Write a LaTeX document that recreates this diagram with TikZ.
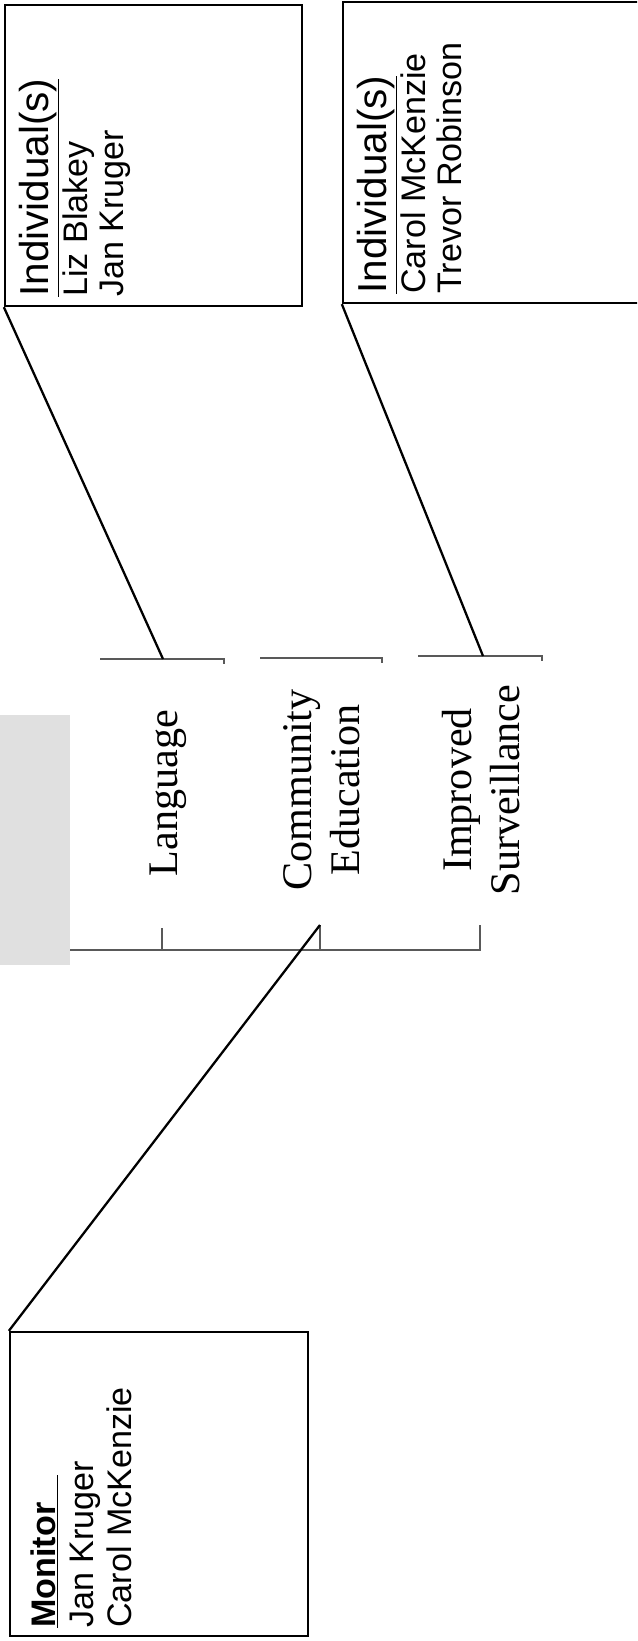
\documentclass[tikz,border=0pt]{standalone}
\usepackage{fontspec}
\setmainfont{Liberation Serif}
\setsansfont{Liberation Sans}
\usepackage{tikz}
\usetikzlibrary{fit}

\tikzset{
  box/.style={draw, line width=1.3pt, inner sep=0pt},
  link/.style={line width=1.3pt},
  bracket/.style={line width=0.8pt, black!65},
  boxhead/.style={rotate=90, anchor=base west, inner sep=0pt,
    font=\sffamily\fontsize{23}{26}\selectfont},
  person/.style={rotate=90, anchor=base west, inner sep=0pt,
    font=\sffamily\fontsize{19.4}{22}\selectfont},
  topic/.style={rotate=90, anchor=north, inner sep=0pt, align=center,
    font=\fontsize{24}{27.3}\selectfont}
}

\begin{document}
\begin{tikzpicture}[x=0.2mm, y=-0.2mm]
\useasboundingbox (0,0) rectangle (637,1641);
\clip (0,0) rectangle (637,1641);

% ---- shaded strip at left ----
\fill[black!12] (0,715) rectangle (70,965);

% ---- first individual box ----
\node[box, fit={(5,5) (302,306)}] (indivA) {};
\node[boxhead] (headA)  at (48,297)  {\underline{Individual(s)}};
\node[person]  (lizA)   at (87,297)  {Liz Blakey};
\node[person]  (janA)   at (123,297) {Jan Kruger};

% ---- second individual box ----
\node[box, fit={(343,2) (700,303)}] (indivB) {};
\node[boxhead] (headB)   at (386,294) {\underline{Individual(s)}};
\node[person]  (carolB)  at (425,294) {Carol McKenzie};
\node[person]  (trevorB) at (461,294) {Trevor Robinson};

% ---- monitor box ----
\node[box, fit={(10,1332) (308,1636)}] (monitor) {};
\node[person]  (headM)  at (55,1628)  {\underline{\textbf{Monitor}\hspace{0.8em}}};
\node[person]  (janM)   at (93,1628)  {Jan Kruger};
\node[person]  (carolM) at (131,1628) {Carol McKenzie};

% ---- topics ----
\node[topic] (language)     at (150,793) {Language};
\node[topic] (community)    at (283,790) {Community\\Education};
\node[topic] (surveillance) at (442,790) {Improved\\Surveillance};

% ---- brackets ----
\draw[bracket] (100,659) -- (224,659) -- (224,664);
\draw[bracket] (260,658) -- (382,658) -- (382,663);
\draw[bracket] (418,656) -- (542,656) -- (542,661);
\draw[bracket] (70,950) -- (480,950) -- (480,925);
\draw[bracket] (162,950) -- (162,928);
\draw[bracket] (320,950) -- (320,925);
\coordinate (langtop) at (163,659);
\coordinate (survtop) at (483,656);
\coordinate (commbot) at (320,925);

% ---- connectors ----
\draw[link] (indivA.south west) -- (langtop);
\draw[link] (indivB.south west) -- (survtop);
\draw[link] (monitor.north west) -- (commbot);
\end{tikzpicture}
\end{document}
